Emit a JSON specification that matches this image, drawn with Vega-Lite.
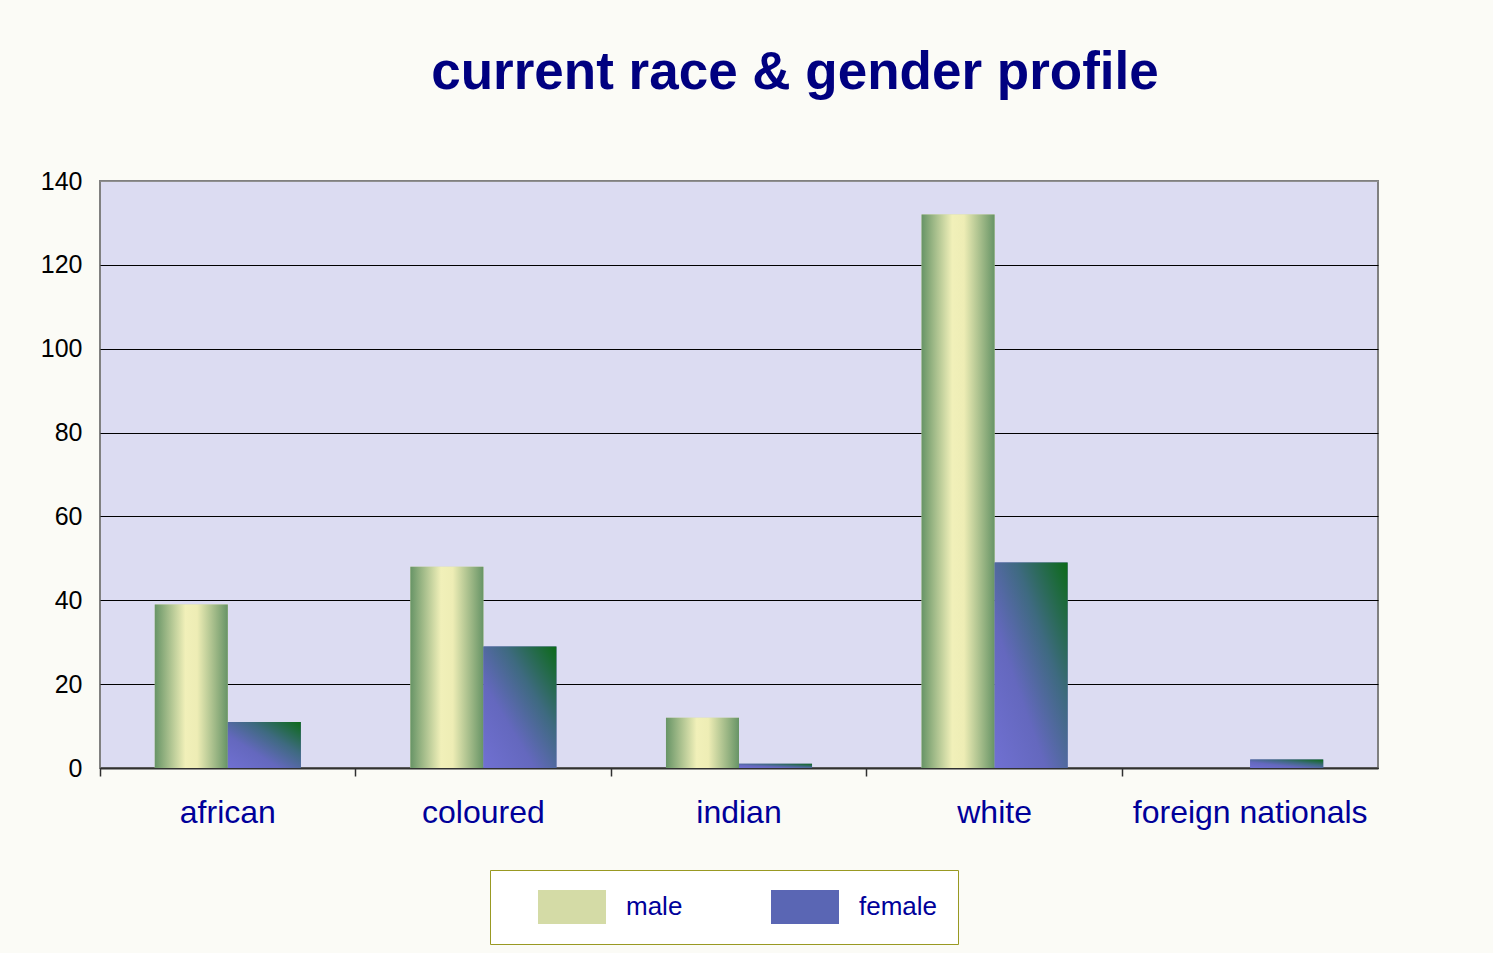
{
  "$schema": "https://vega.github.io/schema/vega-lite/v6.json",
  "width": 1278,
  "height": 587,
  "autosize": {"type": "none"},
  "padding": {"left": 100, "top": 181, "right": 115, "bottom": 185},
  "background": "#fbfbf6",
  "title": {
    "text": "current race & gender profile",
    "font": "Liberation Sans",
    "fontSize": 53,
    "fontWeight": "bold",
    "color": "#000080",
    "anchor": "middle",
    "dx": 56,
    "offset": 69
  },
  "data": {
    "values": [
      {"race": "african", "gender": "male", "count": 39},
      {"race": "african", "gender": "female", "count": 11},
      {"race": "coloured", "gender": "male", "count": 48},
      {"race": "coloured", "gender": "female", "count": 29},
      {"race": "indian", "gender": "male", "count": 12},
      {"race": "indian", "gender": "female", "count": 1},
      {"race": "white", "gender": "male", "count": 132},
      {"race": "white", "gender": "female", "count": 49},
      {"race": "foreign nationals", "gender": "male", "count": 0},
      {"race": "foreign nationals", "gender": "female", "count": 2}
    ]
  },
  "encoding": {
    "x": {
      "field": "race",
      "type": "nominal",
      "sort": ["african", "coloured", "indian", "white", "foreign nationals"],
      "scale": {"paddingInner": 0, "paddingOuter": 0},
      "axis": {
        "title": null,
        "labelAngle": 0,
        "labelFont": "Liberation Sans",
        "labelFontSize": 32,
        "labelColor": "#00009a",
        "labelPadding": 21,
        "labelLimit": 0,
        "labelOverlap": false,
        "bandPosition": 0,
        "ticks": true,
        "tickSize": 8,
        "tickColor": "#303030",
        "tickWidth": 1.5,
        "domainColor": "#303030",
        "domainWidth": 2,
        "grid": false
      }
    },
    "xOffset": {
      "field": "gender",
      "type": "nominal",
      "sort": ["male", "female"],
      "scale": {"paddingInner": 0, "paddingOuter": 0.75}
    },
    "y": {
      "field": "count",
      "type": "quantitative",
      "scale": {"domain": [0, 140]},
      "axis": {
        "title": null,
        "values": [0, 20, 40, 60, 80, 100, 120, 140],
        "labelFont": "Liberation Sans",
        "labelFontSize": 25,
        "labelColor": "#000000",
        "labelPadding": 18,
        "ticks": false,
        "domain": false,
        "grid": true,
        "gridColor": {"condition": {"test": "datum.value == 140", "value": "#909090"}, "value": "#000000"},
        "gridWidth": 1
      }
    }
  },
  "layer": [
    {
      "mark": {"type": "bar"},
      "encoding": {
        "color": {
          "field": "gender",
          "type": "nominal",
          "scale": {"domain": ["male", "female"], "range": ["#d4dba6", "#5a66b4"]},
          "legend": {
            "title": null,
            "orient": "none",
            "legendX": 390,
            "legendY": 689,
            "direction": "horizontal",
            "gridAlign": "none",
            "symbolType": "M-1,-1H3V1H-1Z",
            "symbolSize": 1156,
            "symbolStrokeWidth": 0,
            "symbolOpacity": 1,
            "symbolOffset": 28,
            "labelFont": "Liberation Sans",
            "labelFontSize": 26,
            "labelColor": "#00009a",
            "labelOffset": 54,
            "columnPadding": 60,
            "padding": 20,
            "offset": 0,
            "strokeColor": "#999922",
            "fillColor": "#ffffff"
          }
        }
      }
    },
    {
      "mark": {"type": "bar"},
      "encoding": {
        "color": {
          "condition": {
            "test": "datum.gender === 'male'",
            "value": {"gradient": "linear", "x1": 0, "y1": 0, "x2": 1, "y2": 0,
              "stops": [
                {"offset": 0, "color": "#679466"},
                {"offset": 0.42, "color": "#f1f0b9"},
                {"offset": 0.58, "color": "#eeedb5"},
                {"offset": 1, "color": "#679466"}
              ]}
          },
          "value": {"gradient": "linear", "x1": 0, "y1": 1, "x2": 1, "y2": 0,
            "stops": [
              {"offset": 0, "color": "#7070d2"},
              {"offset": 0.35, "color": "#6468be"},
              {"offset": 0.65, "color": "#3e6a80"},
              {"offset": 1, "color": "#0c6a18"}
            ]}
        }
      }
    }
  ],
  "config": {
    "view": {"fill": "#dcdcf2", "stroke": "#808080", "strokeWidth": 2}
  }
}
